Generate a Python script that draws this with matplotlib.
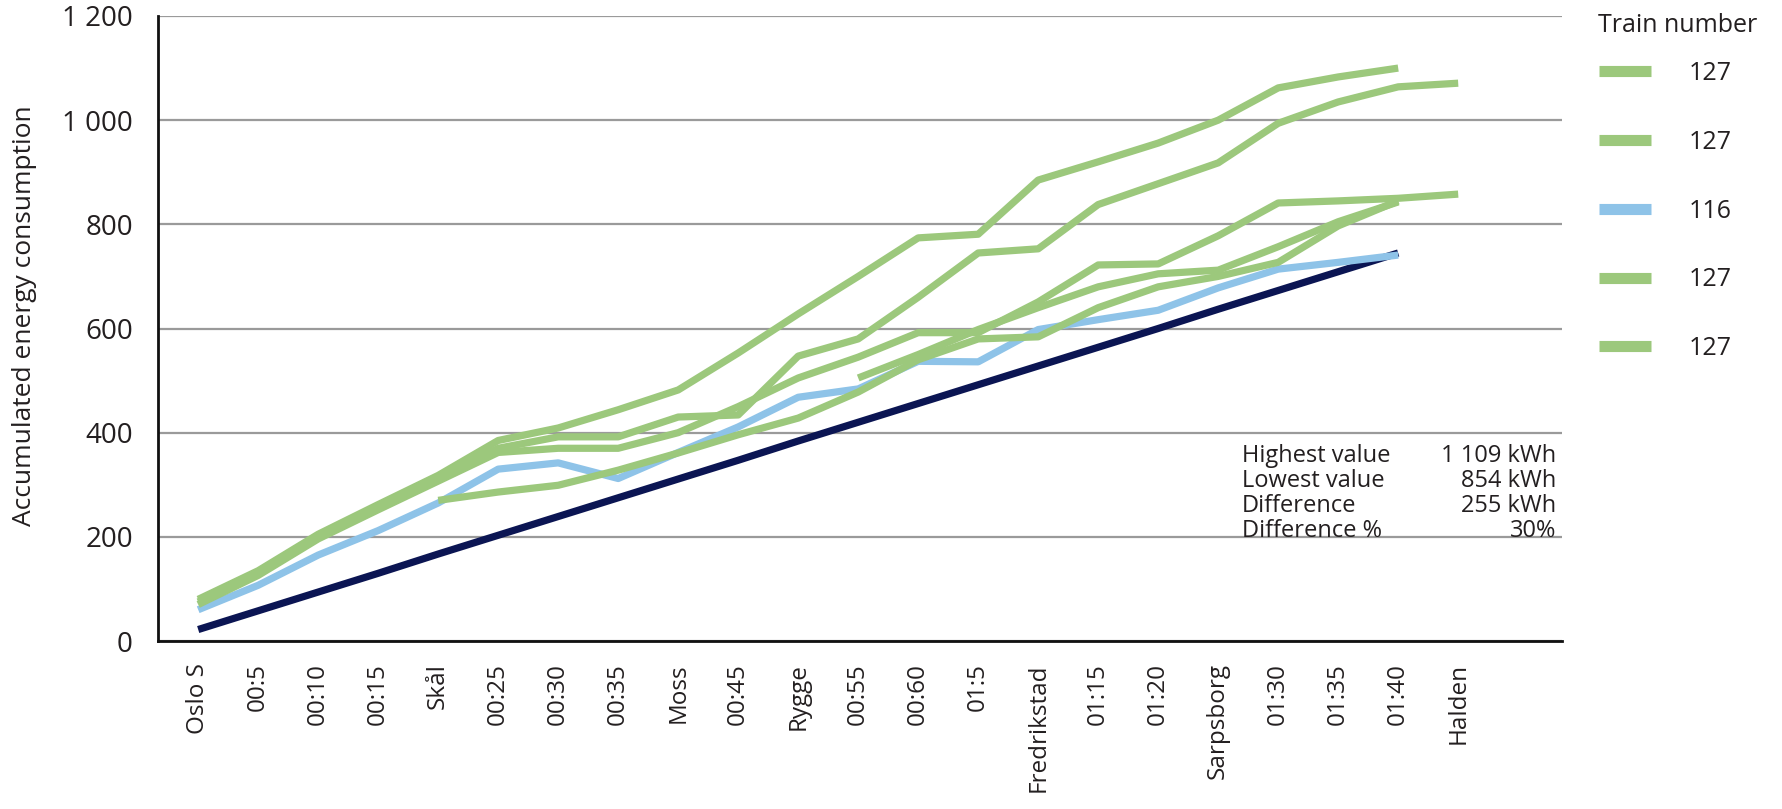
import matplotlib.pyplot as plt
from matplotlib.lines import Line2D

plt.rcParams['font.family'] = ['Open Sans', 'DejaVu Sans']

# stops / time marks along the route
stops = ['Oslo S', '00:5', '00:10', '00:15', 'Skål', '00:25', '00:30', '00:35',
         'Moss', '00:45', 'Rygge', '00:55', '00:60', '01:5', 'Fredrikstad',
         '01:15', '01:20', 'Sarpsborg', '01:30', '01:35', '01:40', 'Halden']

# accumulated energy (kWh)
train_a = [80, 135, 205, 262, 318, 385, 409, 444, 482, 553, 628, 700, 774, 781,
           885, 920, 956, 1000, 1062, 1083, 1100]
train_b = [75, 130, 200, 256, 312, 370, 392, 392, 430, 434, 547, 580, 660, 745,
           753, 838, 878, 918, 994, 1035, 1064, 1071]
train_c = [70, 126, 196, 252, 307, 362, 370, 370, 400, 450, 505, 545, 592, 592,
           651, 722, 724, 778, 841, 845, 850, 858]
train_116 = [60, 107, 165, 212, 265, 330, 342, 312, 362, 411, 468, 484, 537, 536,
             598, 617, 635, 678, 714, 727, 741]
# partial runs (start later on the route)
train_d = [270, 286, 299, 328, 361, 396, 428, 478, 540, 580, 584, 640, 680, 700,
           727, 797, 845]
train_d_start = 4
train_e = [505, 550, 598, 640, 680, 705, 712, 757, 805, 843]
train_e_start = 11
# reference line
reference = [22, 58, 94, 130, 167, 203, 239, 275, 311, 347, 384, 420, 456, 492,
             528, 564, 600, 637, 673, 709, 745]

legend_labels = ['127', '127', '116', '127', '127']

green = '#9cc87c'
blue = '#8ec3e8'
navy = '#0b1553'
text_col = '#231f20'

fig = plt.figure(figsize=(17.83, 8.09), dpi=100)
ax = fig.add_axes([158 / 1783, 1 - 641 / 809, (1562 - 158) / 1783, (641 - 16) / 809])

lw = 5.2
style = dict(lw=lw, solid_capstyle='butt', solid_joinstyle='round')

ax.plot(range(len(reference)), reference, color=navy, **style)
ax.plot(range(len(train_116)), train_116, color=blue, **style)
ax.plot(range(train_e_start, train_e_start + len(train_e)), train_e, color=green, **style)
ax.plot(range(train_d_start, train_d_start + len(train_d)), train_d, color=green, **style)
ax.plot(range(len(train_c)), train_c, color=green, **style)
ax.plot(range(len(train_b)), train_b, color=green, **style)
ax.plot(range(len(train_a)), train_a, color=green, **style)

ax.set_ylim(0, 1200)
ax.set_xlim(-0.67, 22.73)
ax.set_yticks(range(0, 1201, 200))
ax.set_yticklabels([f'{v:,}'.replace(',', ' ') for v in range(0, 1201, 200)])
ax.set_xticks(range(len(stops)))
ax.set_xticklabels(stops, rotation=90, ha='center', va='top')
ax.tick_params(axis='both', length=0, colors=text_col)
ax.tick_params(axis='y', pad=18, labelsize=20)
ax.tick_params(axis='x', pad=16, labelsize=17.5)

ax.yaxis.grid(True, color='#9a9a9a', lw=1.6)
ax.set_axisbelow(True)
for s in ['top', 'right']:
    ax.spines[s].set_visible(False)
for s in ['left', 'bottom']:
    ax.spines[s].set_linewidth(2)
    ax.spines[s].set_color('#111111')

ax.set_ylabel('Accumulated energy consumption', fontsize=19, color=text_col)
ax.yaxis.set_label_coords(-0.086, 0.52)

# legend
fig.text(1598 / 1783, 1 - 25 / 809, 'Train number', fontsize=18, color=text_col,
         ha='left', va='center')
handles = [Line2D([], [], color=c, lw=8, solid_capstyle='butt')
           for c in [green, green, blue, green, green]]
leg = ax.legend(handles, legend_labels, loc='upper left',
                bbox_to_anchor=(1599 / 1783, 1 - 61 / 809), bbox_transform=fig.transFigure,
                frameon=False, fontsize=18, handlelength=2.1,
                handletextpad=1.5, labelspacing=1.75, borderpad=0, borderaxespad=0)
for t in leg.get_texts():
    t.set_color(text_col)

# summary box
rows = [('Highest value', '1 109 kWh'), ('Lowest value', '854 kWh'),
        ('Difference', '255 kWh'), ('Difference %', '30%')]
for k, (name, val) in enumerate(rows):
    y = 1 - (456 + 25 * k) / 809
    fig.text(1242 / 1783, y, name, fontsize=17, va='center', ha='left', color=text_col)
    fig.text(1556 / 1783, y, val, fontsize=17, va='center', ha='right', color=text_col)

fig.savefig('out.png', dpi=100)
